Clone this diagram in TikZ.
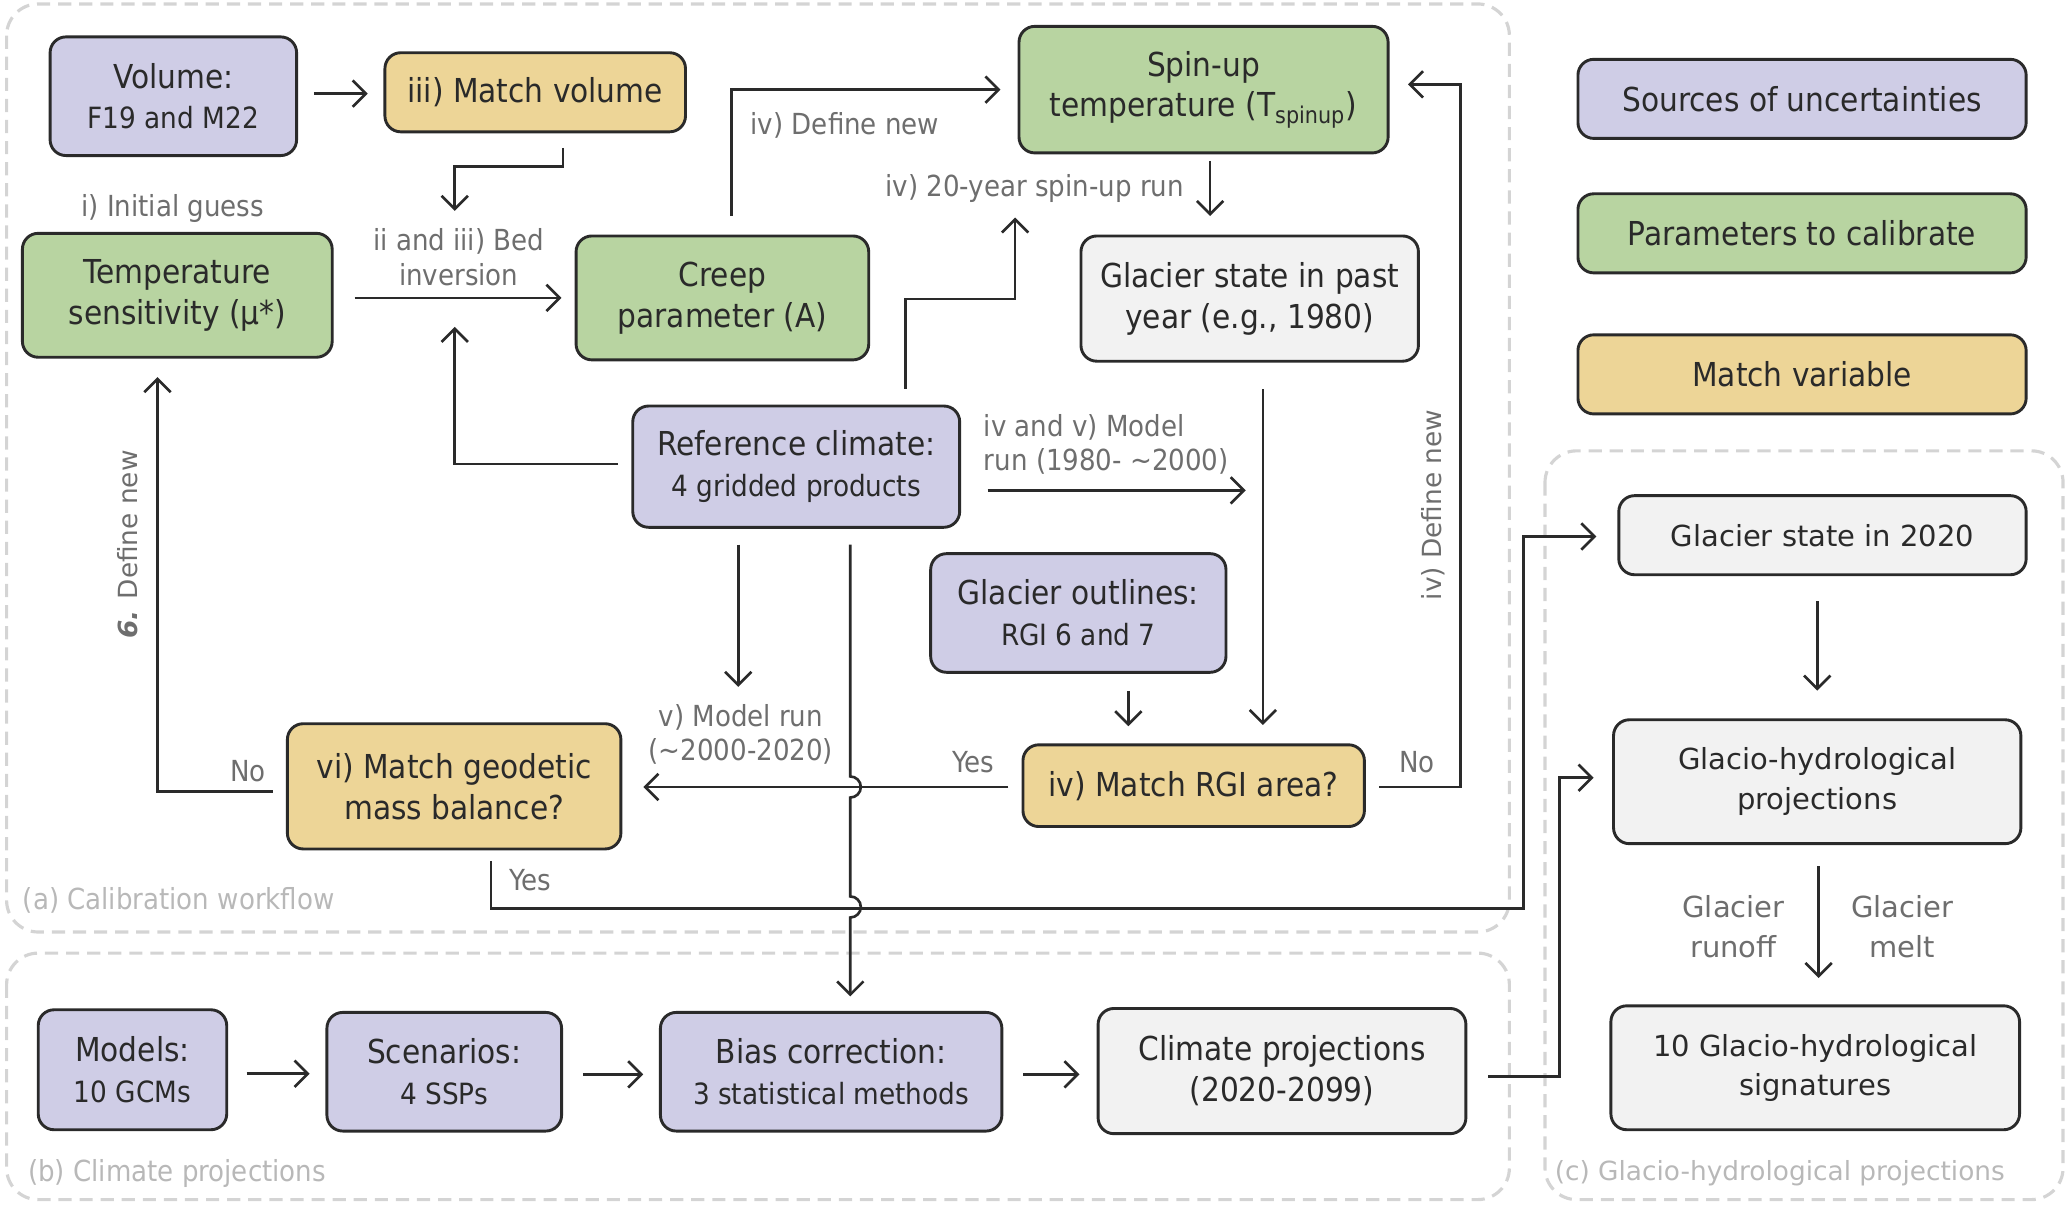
\documentclass[tikz,border=0pt]{standalone}
\usepackage{fontspec}
\setmainfont{DejaVu Sans}
\newfontfamily\cond{DejaVu Sans Condensed}
\usetikzlibrary{arrows.meta,calc}
\definecolor{purp}{HTML}{CFCDE6}
\definecolor{grn}{HTML}{B8D4A1}
\definecolor{yel}{HTML}{EDD597}
\definecolor{gry}{HTML}{F2F2F2}
\definecolor{bord}{HTML}{2A2A2A}
\definecolor{labc}{HTML}{6E6E6E}
\definecolor{panc}{HTML}{D4D4D4}
\definecolor{pantxt}{HTML}{B8B8B8}
\newcommand\smtext[1]{{\fontsize{11.1}{13.5}\selectfont #1}}
\newcommand\drawbox[7]{%
  \pgfmathsetmacro\bxw{(#5-#3)*0.5}%
  \pgfmathsetmacro\bxh{(#6-#4)*0.5}%
  \node[#2, minimum width=\bxw pt, minimum height=\bxh pt] (#1) at ({(#3+#5)/2},{(#4+#6)/2}) {#7};}
\begin{document}
\begin{tikzpicture}[x=0.5pt,y=-0.5pt,
  box/.style={draw=bord, line width=1.1pt, rounded corners=6pt, align=center, inner sep=0pt, text=bord},
  cbox/.style={box, font=\cond\fontsize{12.5}{15.5}\selectfont},
  vbox/.style={box, font=\fontsize{11}{15}\selectfont},
  src/.style={cbox, fill=purp},
  prm/.style={cbox, fill=grn},
  mtc/.style={cbox, fill=yel},
  stt/.style={cbox, fill=gry},
  vst/.style={vbox, fill=gry},
  lab/.style={text=labc, font=\cond\fontsize{11}{13}\selectfont, align=center, inner sep=0pt},
  vlab/.style={text=labc, font=\fontsize{10}{13}\selectfont, align=center, inner sep=0pt},
  vlabb/.style={text=labc, font=\fontsize{11}{15}\selectfont, align=center, inner sep=0pt},
  ptxt/.style={text=pantxt, font=\cond\fontsize{11}{13}\selectfont, inner sep=0pt},
  ptxtv/.style={text=pantxt, font=\fontsize{10}{13}\selectfont, inner sep=0pt},
  arr/.style={draw=bord, line width=1pt, -{Straight Barb[length=5pt,width=10pt,line width=1pt]}},
  panel/.style={draw=panc, line width=1.2pt, dash pattern=on 5pt off 3pt, rounded corners=12pt}]
\useasboundingbox (0,0) rectangle (1568,915);

% panels
\draw[panel] (5,3) rectangle (1145,707);
\draw[panel] (5,723) rectangle (1145,910);
\draw[panel] (1172,342) rectangle (1565,910);
\node[ptxt, anchor=west] (pa) at (17,683) {(a) Calibration workflow};
\node[ptxt, anchor=west] (pb) at (21,890) {(b) Climate projections};
\node[ptxtv, anchor=west] (pc) at (1179,890) {(c) Glacio-hydrological projections};

% boxes
\drawbox{vol}{src}{38}{28}{225}{118}{Volume:\\\smtext{F19 and M22}}
\drawbox{mv}{mtc}{292}{40}{520}{100}{iii) Match volume}
\drawbox{spin}{prm}{773}{20}{1053}{116}{Spin-up\\temperature (T\textsubscript{spinup})}
\drawbox{temp}{prm}{17}{177}{252}{271}{Temperature\\sensitivity (μ*)}
\drawbox{creep}{prm}{437}{179}{659}{273}{Creep\\parameter (A)}
\drawbox{past}{stt}{820}{179}{1076}{274}{Glacier state in past\\year (e.g., 1980)}
\drawbox{ref}{src}{480}{308}{728}{400}{Reference climate:\\\smtext{4 gridded products}}
\drawbox{outl}{src}{706}{420}{930}{510}{Glacier outlines:\\\smtext{RGI 6 and 7}}
\drawbox{rgi}{mtc}{776}{565}{1035}{627}{iv) Match RGI area?}
\drawbox{mgb}{mtc}{218}{549}{471}{644}{vi) Match geodetic\\mass balance?}
\drawbox{leg1}{src}{1197}{45}{1537}{105}{Sources of uncertainties}
\drawbox{leg2}{prm}{1197}{147}{1537}{207}{Parameters to calibrate}
\drawbox{leg3}{mtc}{1197}{254}{1537}{314}{Match variable}
\drawbox{gs20}{vst}{1228}{376}{1537}{436}{Glacier state in 2020}
\drawbox{ghp}{vst}{1224}{546}{1533}{640}{Glacio-hydrological\\projections}
\drawbox{sig}{vst}{1222}{763}{1532}{857}{10 Glacio-hydrological\\signatures}
\drawbox{mods}{src}{29}{766}{172}{857}{Models:\\\smtext{10 GCMs}}
\drawbox{scen}{src}{248}{768}{426}{858}{Scenarios:\\\smtext{4 SSPs}}
\drawbox{bias}{src}{501}{768}{760}{858}{Bias correction:\\\smtext{3 statistical methods}}
\drawbox{clim}{stt}{833}{765}{1112}{860}{Climate projections\\(2020-2099)}

% free ends
\coordinate (bedtip) at (345,160);
\coordinate (bedtip2) at (345,248);
\coordinate (spintip) at (770,165);
\coordinate (modtip) at (945,372);
\coordinate (mrtip) at (560,521);
\coordinate (hopA) at (645,597);
\coordinate (hopB) at (645,688);

% connectors
\draw[arr] ($(vol.east|-mv.west)+(12,1)$) -- ($(mv.west)+(-12,1)$);
\draw[arr] ($(mv.south)+(21,11)$) -- ++(0,14) -| (bedtip);
\draw[arr] ($(temp.east|-creep.west)+(16,0)$) -- ($(creep.west)+(-10,0)$);
\draw[arr] ($(ref.west)+(-10,-2)$) -| (bedtip2);
\draw[arr] ($(creep.north)+(7,-14)$) |- ($(spin.west)+(-13,0)$);
\draw[arr] ($(ref.north)+(83,-12)$) -- ++(0,-68) -| (spintip);
\path ($(spin.south)+(5,0)$) coordinate (s1);
\draw[arr, shorten <=2.5pt, shorten >=7pt] (s1) -- (s1|-past.north);
\path ($(past.south)+(10,0)$) coordinate (p1);
\draw[arr, shorten <=10pt, shorten >=7pt] (p1) -- (p1|-rgi.north);
\draw[arr] ($(ref.east)+(20,18)$) -- (modtip);
\path ($(outl.south)+(38,0)$) coordinate (o1);
\draw[arr, shorten <=6.5pt, shorten >=6.5pt] (o1) -- (o1|-rgi.north);
\draw[arr] ($(rgi.east)+(10,1)$) -- ++(62,0) |- ($(spin.east)+(14,-4)$);
\draw[arr] ($(rgi.west)+(-10,1)$) -- ($(mgb.east|-rgi.west)+(16,1)$);
\draw[arr] ($(ref.south)+(-44,12)$) -- (mrtip);
\draw[arr] ($(ref.south)+(41,12)$) -- ($(hopA)+(0,-8)$) arc[start angle=-90,end angle=90,radius=8]
   -- ($(hopB)+(0,-8)$) arc[start angle=-90,end angle=90,radius=8]
   -- ($(bias.north)+(14.5,-11)$);
\draw[arr] ($(mgb.west)+(-10,4)$) -| ($(temp.south)+(-15,14)$);
\draw[arr] ($(mgb.south)+(28,8)$) -- ++(0,36) -| ($(gs20.west)+(-71,1)$) -- ($(gs20.west)+(-16,1)$);
\draw[arr] ($(clim.east)+(16,4)$) -- ++(54,0) |- ($(ghp.west)+(-14,-3)$);
\path ($(gs20.south)+(-4,0)$) coordinate (g1);
\draw[arr, shorten <=9.5pt, shorten >=10.5pt] (g1) -- (g1|-ghp.north);
\path ($(ghp.south)+(1,0)$) coordinate (h1);
\draw[arr, shorten <=8pt, shorten >=10pt] (h1) -- (h1|-sig.north);
\draw[arr] ($(mods.east)+(14,3)$) -- ($(scen.west|-mods.east)+(-12,3)$);
\draw[arr] ($(scen.east)+(15,2)$) -- ($(bias.west)+(-12,2)$);
\draw[arr] ($(bias.east)+(15,2)$) -- ($(clim.west|-bias.east)+(-13,2)$);

% labels
\node[lab] (l1) at (131,158) {i) Initial guess};
\node[lab] (l2) at (348,195) {ii and iii) Bed\\inversion};
\node[lab] (l3) at (641,95) {iv) Define new};
\node[lab] (l4) at (785,143) {iv) 20-year spin-up run};
\node[lab, align=left, anchor=west] (l5) at (746,337) {iv and v) Model\\run (1980- \textasciitilde2000)};
\node[lab] (l6) at (562,557) {v) Model run\\(\textasciitilde2000-2020)};
\node[lab] (l7) at (738,578) {Yes};
\node[lab] (l8) at (1075,578) {No};
\node[lab] (l9) at (188,585) {No};
\node[lab] (l10) at (402,668) {Yes};
\node[vlab, rotate=90] (l11) at (1087,383) {iv) Define new};
\node[vlab, rotate=90] (l12) at (97,413) {\textbf{\textit{6.}} Define new};
\node[vlabb] (l13) at (1315,703) {Glacier\\runoff};
\node[vlabb] (l14) at (1443,703) {Glacier\\melt};
\end{tikzpicture}
\end{document}
